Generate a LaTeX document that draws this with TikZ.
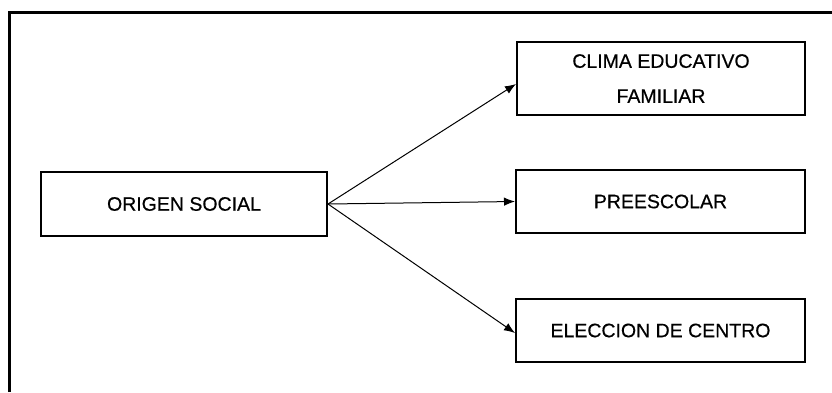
\documentclass[tikz,border=0pt]{standalone}
\usepackage{fontspec}
\setmainfont{Liberation Sans}
\newfontfamily\scanfont{Liberation Sans}[FakeBold=0.5]
\usetikzlibrary{arrows.meta}
\begin{document}
\begin{tikzpicture}[x=1pt,y=-1pt,
  box/.style={draw,line width=2pt,align=center,inner sep=0pt,
    font=\scanfont\fontsize{19.5}{35}\selectfont},
  arr/.style={line width=1pt,-{Latex[length=11pt,width=8.5pt]}},
  frame/.style={line width=3.5pt}]
\useasboundingbox (0,0) rectangle (832,392);
\draw[frame] (9.5,392) -- (9.5,12.5) -- (832,12.5);
\node[box,minimum width=286pt,minimum height=64pt] (orig) at (184,204) {ORIGEN SOCIAL};
\node[box,minimum width=288pt,minimum height=73pt] (clima) at (661,78.5) {CLIMA EDUCATIVO\\FAMILIAR};
\node[box,minimum width=289pt,minimum height=63pt] (pre) at (660.5,201.5) {PREESCOLAR};
\node[box,minimum width=289pt,minimum height=63pt] (elec) at (660.5,330.5) {ELECCION DE CENTRO};
\draw[arr] (orig.east) -- ([yshift=-5.5pt]clima.west);
\draw[arr] (orig.east) -- (pre.west);
\draw[arr] (orig.east) -- ([yshift=-2.5pt]elec.west);
\end{tikzpicture}
\end{document}
